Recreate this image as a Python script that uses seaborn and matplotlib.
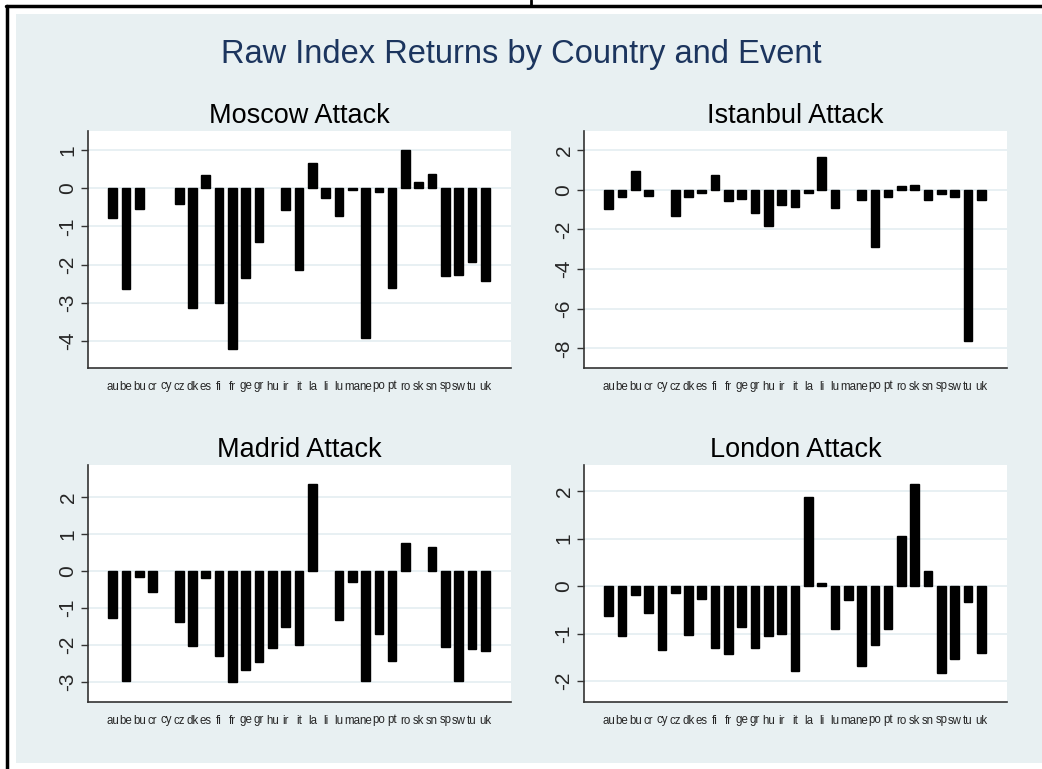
import numpy as np
import pandas as pd
import matplotlib.pyplot as plt
from matplotlib.lines import Line2D
from matplotlib.patches import Rectangle
import seaborn as sns

sns.set_style("white")
plt.rcParams['font.family'] = ['Liberation Sans', 'DejaVu Sans']

# Data
countries = ['au', 'be', 'bu', 'cr', 'cy', 'cz', 'dk', 'es', 'fi', 'fr', 'ge', 'gr', 'hu', 'ir', 'it',
             'la', 'li', 'lu', 'ma', 'ne', 'po', 'pt', 'ro', 'sk', 'sn', 'sp', 'sw', 'tu', 'uk']
nan = np.nan
moscow = [-0.78, -2.64, -0.53, nan, nan, -0.42, -3.15, 0.36, -3.00, -4.21, -2.36, -1.40, nan, -0.57, -2.15,
          0.67, -0.26, -0.72, -0.03, -3.94, -0.10, -2.63, 1.00, 0.18, 0.38, -2.30, -2.27, -1.93, -2.43]
istanbul = [-0.96, -0.37, 0.94, -0.30, nan, -1.34, -0.34, -0.15, 0.74, -0.55, -0.44, -1.16, -1.80, -0.77, -0.87,
            -0.15, 1.65, -0.94, nan, -0.52, -2.87, -0.34, 0.17, 0.24, -0.52, -0.20, -0.37, -7.65, -0.49]
madrid = [-1.27, -2.99, -0.18, -0.58, nan, -1.38, -2.04, -0.20, -2.30, -3.00, -2.69, -2.48, -2.09, -1.52, -2.01,
          2.35, nan, -1.34, -0.30, -2.99, -1.70, -2.45, 0.74, nan, 0.65, -2.06, -2.97, -2.11, -2.16]
london = [-0.62, -1.04, -0.18, -0.57, -1.35, -0.15, -1.03, -0.27, -1.31, -1.42, -0.87, -1.30, -1.06, -1.00, -1.79,
          1.87, 0.07, -0.90, -0.30, -1.69, -1.23, -0.90, 1.06, 2.16, 0.31, -1.82, -1.53, -0.34, -1.41]

events = ['Moscow Attack', 'Istanbul Attack', 'Madrid Attack', 'London Attack']
series = [moscow, istanbul, madrid, london]
yticks = [np.arange(-4, 2, 1), np.arange(-8, 3, 2), np.arange(-3, 3, 1), np.arange(-2, 3, 1)]
ylims = [(-4.72, 1.51), (-8.99, 2.97), (-3.55, 2.86), (-2.44, 2.55)]

W, H = 1042, 769
fig = plt.figure(figsize=(W / 100, H / 100), dpi=100)
fig.patch.set_facecolor('white')

# outer frame / background like Stata graph region
bg = '#E8F0F2'
fig.add_artist(Rectangle((16 / W, 1 - 763 / H), 1 - 16 / W, (763 - 14) / H,
                         transform=fig.transFigure, facecolor=bg, edgecolor='none', zorder=-10))
fig.add_artist(Line2D([6 / W, 1], [1 - 6 / H, 1 - 6 / H], transform=fig.transFigure, color='black', lw=2.5))
fig.add_artist(Line2D([7 / W, 7 / W], [0, 1 - 6 / H], transform=fig.transFigure, color='black', lw=2.5))
fig.add_artist(Line2D([531 / W, 531 / W], [1 - 6 / H, 1], transform=fig.transFigure, color='black', lw=2))

boxes = [(88, 131), (584, 131), (88, 465), (584, 465)]
aw, ah = 423, 237

for (x0, y0), name, vals, yt, yl in zip(boxes, events, series, yticks, ylims):
    ax = fig.add_axes([x0 / W, 1 - (y0 + ah) / H, aw / W, ah / H])
    df = pd.DataFrame({'country': countries, 'ret': vals}).dropna()
    sns.barplot(data=df, x='country', y='ret', order=countries, color='black',
                saturation=1, width=0.65, edgecolor='black', ax=ax, zorder=3)
    ax.set_xlim(-1.85, 29.93)
    ax.set_ylim(*yl)
    ax.set_yticks(yt)
    ax.set_yticklabels([f'{v:g}' for v in yt], rotation=90, va='center', fontsize=15)
    ax.yaxis.grid(True, color='#E4EEF1', lw=1.2, zorder=0)
    ax.xaxis.grid(False)
    ax.tick_params(axis='y', length=5, width=1, color='#333333', pad=2.5, left=True)
    ax.tick_params(axis='x', length=0, pad=9, labelsize=8.3)
    ax.set_xlabel('')
    ax.set_ylabel('')
    for s in ['top', 'right']:
        ax.spines[s].set_visible(False)
    for s in ['left', 'bottom']:
        ax.spines[s].set_color('#333333')
        ax.spines[s].set_linewidth(1.2)
    ax.set_title(name, fontsize=19.5, pad=6, color='black')

fig.text(0.5, 1 - 54 / H, 'Raw Index Returns by Country and Event', ha='center', va='center',
         fontsize=23.5, color='#1c355e')

fig.savefig('out.png', dpi=100)
